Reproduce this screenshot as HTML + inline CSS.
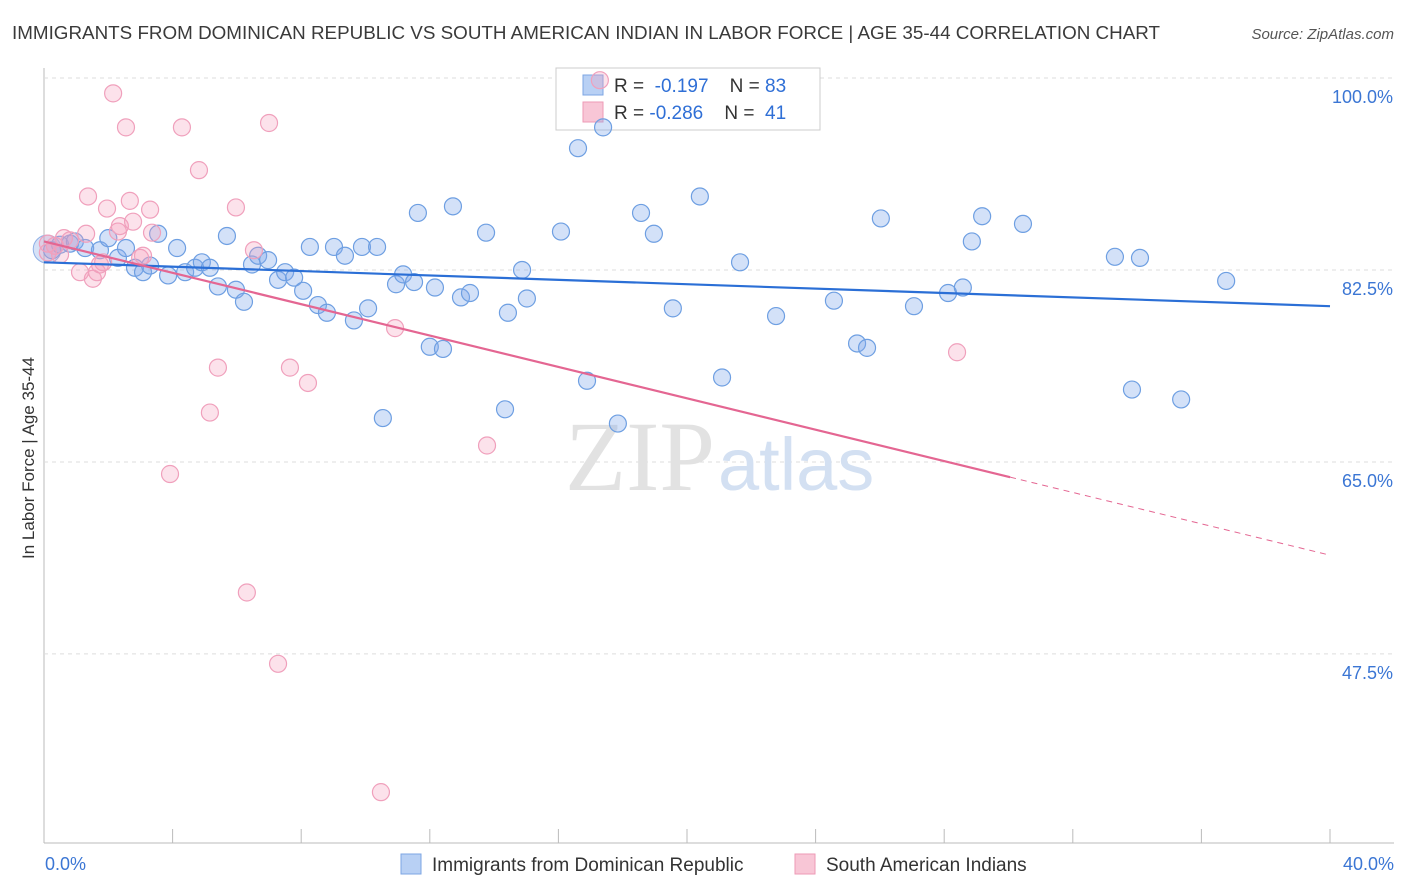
<!DOCTYPE html>
<html><head><meta charset="utf-8"><style>
body{margin:0;background:#fff;font-family:"Liberation Sans",sans-serif;}
svg{display:block}
</style></head><body>
<svg id="chart" width="1406" height="892">
<text x="12" y="39" font-size="18" fill="#3a3a3a" textLength="1148" lengthAdjust="spacingAndGlyphs">IMMIGRANTS FROM DOMINICAN REPUBLIC VS SOUTH AMERICAN INDIAN IN LABOR FORCE | AGE 35-44 CORRELATION CHART</text>
<text x="1394" y="39" font-size="15" fill="#555" text-anchor="end" font-style="italic">Source: ZipAtlas.com</text>
<text x="34" y="458" font-size="17" fill="#333" text-anchor="middle" transform="rotate(-90 34 458)">In Labor Force | Age 35-44</text>
<g id="grid"></g>
<text x="715" y="490" font-size="100" fill="#e2e2e2" text-anchor="end" font-family="Liberation Serif">ZIP</text>
<text x="718" y="490" font-size="74" fill="#d3e0f2">atlas</text>
<g style="white-space:pre">
<rect x="556" y="68" width="264" height="62" fill="#fff" stroke="#ccc"/>
<rect x="583" y="75" width="20" height="20" fill="#b8d0f4" stroke="#7da6e3"/>
<text x="614" y="92" font-size="19" fill="#333" xml:space="preserve">R =  <tspan fill="#2f6fd6">-0.197</tspan>    N = <tspan fill="#2f6fd6">83</tspan></text>
<rect x="583" y="102" width="20" height="20" fill="#f8c6d6" stroke="#ee9ab6"/>
<text x="614" y="119" font-size="19" fill="#333" xml:space="preserve">R = <tspan fill="#2f6fd6">-0.286</tspan>    N =  <tspan fill="#2f6fd6">41</tspan></text>
</g>
<g id="pts"></g>
<g id="lines"></g>
<g>
<rect x="401" y="854" width="20" height="20" fill="#b8d0f4" stroke="#7da6e3"/>
<text x="432" y="871" font-size="19" fill="#333">Immigrants from Dominican Republic</text>
<rect x="795" y="854" width="20" height="20" fill="#f8c6d6" stroke="#ee9ab6"/>
<text x="826" y="871" font-size="19" fill="#333">South American Indians</text>
</g>
</svg>
<script>
const blueX=[0.25,0.5,0.81,0.96,1.28,1.74,2.0,2.3,2.55,2.83,3.08,3.3,3.55,3.86,4.14,4.39,4.7,4.91,5.16,5.41,5.69,5.97,6.22,6.47,6.66,6.97,7.28,7.5,7.78,8.06,8.27,8.52,8.8,9.02,9.36,9.64,9.89,10.08,10.36,10.54,10.95,11.17,11.51,11.63,12.0,12.16,12.41,12.72,12.97,13.25,13.75,14.43,14.34,14.87,15.02,16.08,16.61,16.89,17.39,17.85,18.57,18.97,19.56,20.4,21.09,21.65,22.77,24.57,25.29,25.6,26.03,27.06,28.12,28.58,28.86,29.18,30.45,33.31,34.09,33.84,35.37,36.77];
const blueY=[84.3,84.8,84.9,85.1,84.5,84.3,85.4,83.6,84.5,82.7,82.3,82.9,85.8,82.0,84.5,82.3,82.7,83.2,82.7,81.0,85.6,80.7,79.6,83.0,83.8,83.4,81.6,82.3,81.8,80.6,84.6,79.3,78.6,84.6,83.8,77.9,84.6,79.0,84.6,69.0,81.2,82.1,81.4,87.7,75.5,80.9,75.3,88.3,80.0,80.4,85.9,78.6,69.8,82.5,79.9,86.0,93.6,72.4,95.5,68.5,87.7,85.8,79.0,89.2,72.7,83.2,78.3,79.7,75.8,75.4,87.2,79.2,80.4,80.9,85.1,87.4,86.7,83.7,83.6,71.6,70.7,81.5];
const pinkX=[0.12,0.34,0.62,1.12,1.31,1.37,1.52,1.65,1.84,1.96,2.15,2.3,2.36,2.55,2.67,2.77,2.99,3.08,3.3,3.36,3.92,4.29,4.82,5.16,5.41,5.97,6.31,6.53,7.0,7.28,7.65,8.21,10.48,10.92,13.78,17.29,28.4,0.12,0.81,0.5,1.74];
const pinkY=[84.9,84.7,85.4,82.3,85.8,89.2,81.7,82.3,83.2,88.1,98.6,86.0,86.5,95.5,88.8,86.9,83.6,83.8,88.0,85.9,63.9,95.5,91.6,69.5,73.6,88.2,53.1,84.3,95.9,46.6,73.6,72.2,34.9,77.2,66.5,99.8,75.0,84.1,85.2,83.9,83.0];
const yTicks=[100,82.5,65,47.5];
const yTickLabels=["100.0%","82.5%","65.0%","47.5%"];
const blueTrend=[83.2,79.2];
const pinkTrend=[85.1,56.5];
const pinkSolidEnd=30.05;
const NS="http://www.w3.org/2000/svg";
const sx=v=>44+v*32.15, sy=v=>78+(100-v)*10.97;
function mk(t,a,p){const e=document.createElementNS(NS,t);for(const k in a)e.setAttribute(k,a[k]);p.appendChild(e);return e;}
const grid=document.getElementById('grid');
const ax=mk('line',{x1:44,y1:68,x2:44,y2:843,stroke:'#bbb'},grid);


const bx=mk('line',{x1:44,y1:843,x2:1394,y2:843,stroke:'#bbb'},grid);


for(let i=0;i<=10;i++){const t=mk('line',{x1:sx(i*4),y1:829,x2:sx(i*4),y2:843,stroke:'#bbb'},grid);

}
yTicks.forEach((v,i)=>{const l=mk('line',{x1:44,x2:1394,y1:sy(v),y2:sy(v),stroke:'#ddd','stroke-dasharray':'4 4'},grid);


const t=mk('text',{x:1393,y:sy(v)+25,'font-size':18,fill:'#3b76d4','text-anchor':'end'},grid);t.textContent=yTickLabels[i];

});
[[0,"0.0%","start",45],[40,"40.0%","end",1394]].forEach(d=>{const t=mk('text',{x:d[3],y:870,'font-size':18,fill:'#3b76d4','text-anchor':d[2]},grid);t.textContent=d[1];

});
const pts=document.getElementById('pts');
const big=mk('circle',{cx:sx(0.1),cy:sy(84.4),r:14,fill:'rgba(120,160,230,0.3)',stroke:'#8fb0e6'},pts);


blueX.forEach((x,i)=>{const c=mk('circle',{cx:sx(x),cy:sy(blueY[i]),r:8.5,fill:'rgba(130,170,235,0.35)',stroke:'#6e9fe2','stroke-width':1.2},pts);

});
pinkX.forEach((x,i)=>{const c=mk('circle',{cx:sx(x),cy:sy(pinkY[i]),r:8.5,fill:'rgba(245,160,190,0.3)',stroke:'#f0a0bc','stroke-width':1.2},pts);

});
const lines=document.getElementById('lines');
const bl=mk('line',{x1:sx(0),y1:sy(blueTrend[0]),x2:sx(40),y2:sy(blueTrend[1]),stroke:'#2b6fd6','stroke-width':2.2},lines);


const pAt=x=>pinkTrend[0]+(pinkTrend[1]-pinkTrend[0])*x/40;
const pl=mk('line',{x1:sx(0),y1:sy(pinkTrend[0]),x2:sx(pinkSolidEnd),y2:sy(pAt(pinkSolidEnd)),stroke:'#e46692','stroke-width':2.2},lines);


const pd=mk('line',{x1:sx(pinkSolidEnd),y1:sy(pAt(pinkSolidEnd)),x2:sx(40),y2:sy(pinkTrend[1]),stroke:'#e46692','stroke-width':1,'stroke-dasharray':'6 5'},lines);


</script>
</body></html>
